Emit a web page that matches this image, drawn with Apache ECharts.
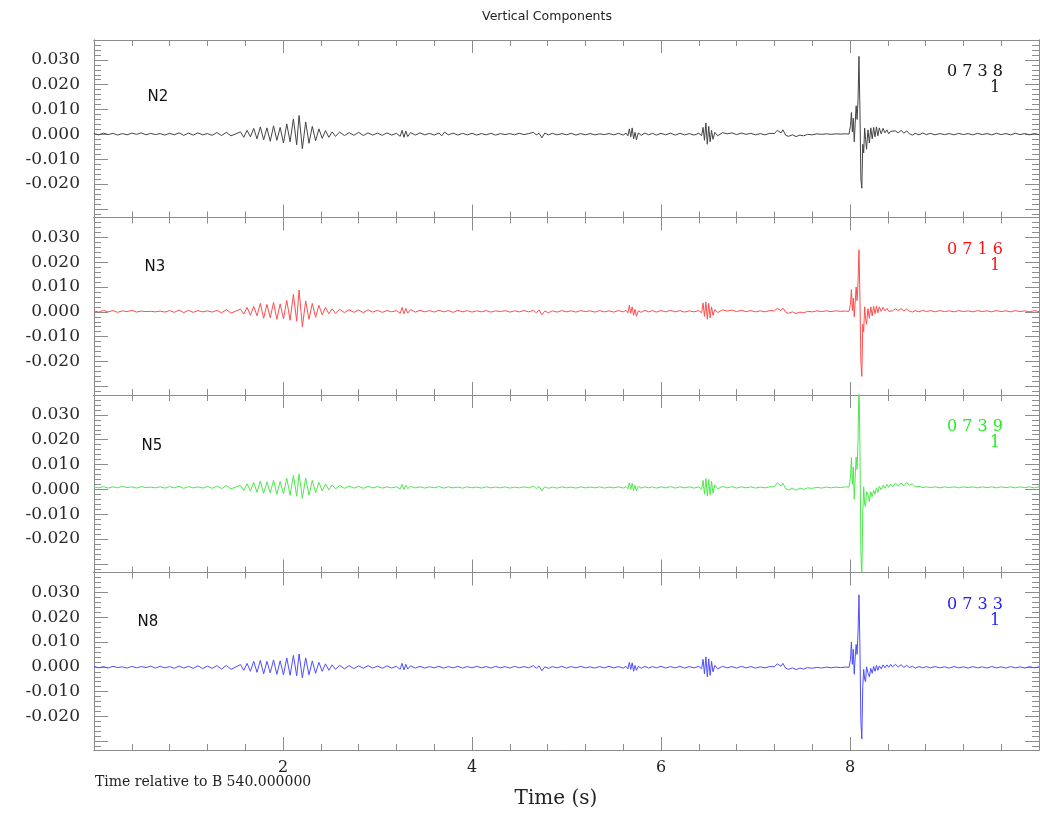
<!DOCTYPE html>
<html>
<head>
<meta charset="utf-8">
<title>Vertical Components</title>
<script src="https://cdn.jsdelivr.net/npm/echarts@6.0.0/dist/echarts.min.js"></script>
<style>
  html, body { margin: 0; padding: 0; background: #fff; }
  #chart { width: 1040px; height: 814px; }
</style>
</head>
<body>
<div id="chart"></div>
<script>
// station names and the code printed top right of each panel
const stations = ['N2', 'N3', 'N5', 'N8'];
const codes = ['0 7 3 8', '0 7 1 6', '0 7 3 9', '0 7 3 3'];

// traces: [time (s), amplitude in units of 0.001]
const n2 = [[0,0.3],[0.05,-0.2],[0.1,0.5],[0.15,-0.1],[0.2,0.4],[0.25,-0.3],[0.3,0.3],[0.35,-0.2],[0.4,0.5],[0.45,0.0],[0.5,0.6],[0.55,-0.2],[0.6,0.4],[0.65,-0.1],[0.7,0.3],[0.75,-0.3],[0.8,0.4],[0.85,-0.2],[0.9,0.6],[0.95,-0.4],[1.0,0.5],[1.05,-0.3],[1.1,0.6],[1.15,-0.2],[1.2,0.3],[1.25,-0.4],[1.3,0.7],[1.35,-0.5],[1.4,0.8],[1.45,-0.6],[1.55,1.0],
  [1.585,-1.2],[1.62,1.6],[1.655,-1.0],[1.69,2.4],[1.725,-1.8],[1.76,3.0],[1.795,-2.2],[1.83,2.6],[1.865,-2.8],[1.9,3.4],[1.935,-2.4],[1.97,2.8],[2.005,-3.5],[2.04,4.2],[2.075,-3.0],[2.11,6.2],[2.145,-4.2],[2.17,7.6],[2.205,-5.8],[2.24,5.0],[2.275,-3.6],[2.31,3.2],[2.345,-2.6],[2.38,2.2],[2.415,-1.6],[2.45,1.5],[2.485,-1.2],[2.52,1.0],[2.555,-0.8],
  [2.6,0.9],[2.65,-0.5],[2.7,0.7],[2.75,-0.4],[2.8,0.8],[2.85,-0.5],[2.9,0.6],[2.95,-0.3],[3.0,0.5],[3.05,-0.4],[3.1,0.6],[3.15,-0.3],[3.2,0.4],
  [3.24,-0.8],[3.26,1.6],[3.28,-1.2],[3.3,1.3],[3.32,-0.9],[3.35,0.7],[3.4,-0.3],
  [3.45,0.6],[3.5,-0.2],[3.55,0.4],[3.6,-0.3],[3.65,0.5],[3.68,-0.6],[3.71,0.9],[3.75,-0.2],[3.8,0.5],[3.85,-0.3],[3.9,0.4],[3.95,-0.2],[4.0,0.4],[4.05,-0.3],[4.1,0.3],[4.15,-0.2],[4.2,0.4],[4.25,-0.3],[4.3,0.3],[4.35,-0.1],[4.4,0.3],[4.45,-0.2],[4.5,0.4],[4.55,-0.1],[4.6,0.3],[4.65,0.8],[4.68,-0.2],[4.71,0.4],[4.74,-1.4],[4.77,0.5],[4.81,-0.2],[4.85,0.4],[4.9,-0.2],[4.95,0.3],[5.0,-0.2],[5.05,0.4],[5.1,-0.3],[5.15,0.3],[5.2,-0.2],[5.25,0.3],[5.3,-0.2],[5.35,0.2],[5.4,-0.1],[5.45,0.3],[5.5,-0.2],[5.55,0.4],[5.6,-0.3],[5.63,0.5],
  [5.65,-0.6],[5.665,2.2],[5.68,-1.0],[5.695,2.6],[5.71,-1.8],[5.725,0.8],[5.74,-2.2],[5.76,0.6],[5.79,-0.4],[5.83,0.5],[5.87,-0.2],[5.91,0.4],[5.95,-0.3],[6.0,0.4],[6.05,-0.2],[6.1,0.5],[6.15,-0.3],[6.2,0.4],[6.25,-0.2],[6.3,0.3],[6.35,-0.3],[6.4,0.4],
  [6.43,-0.5],[6.445,2.8],[6.46,-2.4],[6.475,4.6],[6.49,-4.0],[6.505,3.2],[6.52,-3.0],[6.535,1.6],[6.55,-2.0],[6.57,0.8],[6.6,-0.6],[6.65,0.7],[6.7,0.2],[6.75,0.6],[6.8,-0.1],[6.85,0.5],[6.9,0.0],[6.95,0.4],[7.0,-0.2],[7.05,0.3],[7.1,-0.2],[7.15,0.4],[7.2,0.3],[7.23,1.6],[7.25,2.4],[7.27,0.6],[7.29,1.8],[7.32,-0.4],[7.35,-0.8],[7.39,-0.2],[7.43,-0.9],[7.47,-0.3],[7.51,-0.6],[7.55,0.0],[7.6,-0.2],[7.65,0.2],[7.7,0.0],[7.75,0.2],[7.8,0.0],[7.85,0.2],[7.9,0.1],[7.95,0.2],[7.99,0.1],
  [8.005,3.5],[8.015,8.8],[8.025,1.0],[8.035,6.5],[8.045,-3.0],[8.055,4.5],[8.065,11.5],[8.075,6.0],[8.085,14.0],[8.095,31.4],[8.105,10.0],[8.115,-18.0],[8.125,-21.7],[8.135,-4.0],[8.145,-7.5],[8.155,2.5],[8.165,-2.0],[8.175,-6.0],[8.19,1.8],[8.205,-3.5],[8.22,2.6],[8.235,-1.8],[8.25,2.8],[8.265,-1.0],[8.28,3.0],[8.295,-0.6],[8.31,2.6],[8.33,0.2],[8.35,2.4],[8.37,0.6],[8.39,1.8],[8.41,0.2],[8.43,1.2],[8.45,0.4],[8.48,1.4],[8.51,0.6],[8.54,1.6],[8.57,0.5],[8.6,1.4],[8.63,0.2],[8.66,-0.3],[8.69,0.4],[8.73,-0.2],[8.77,0.5],[8.81,-0.1],[8.85,0.4],
  [8.9,-0.2],[8.95,0.3],[9.0,-0.1],[9.05,0.3],[9.1,-0.2],[9.15,0.4],[9.2,-0.1],[9.25,0.3],[9.3,-0.2],[9.35,0.4],[9.4,-0.1],[9.45,0.3],[9.5,-0.2],[9.55,0.4],[9.6,-0.1],[9.65,0.3],[9.7,-0.2],[9.75,0.4],[9.8,-0.1],[9.85,0.3],[9.9,-0.2],[9.95,0.3],[10.0,-0.1]];

const n3 = [[0,0.4],[0.05,-0.1],[0.1,0.6],[0.15,0.0],[0.2,0.5],[0.25,-0.2],[0.3,0.4],[0.35,0.1],[0.4,0.6],[0.45,-0.1],[0.5,0.3],[0.55,0.1],[0.6,0.2],[0.65,0.0],[0.7,0.3],[0.75,-0.1],[0.8,0.5],[0.85,-0.2],[0.9,0.7],[0.95,-0.3],[1.0,0.6],[1.05,-0.2],[1.1,0.5],[1.15,0.0],[1.2,0.4],[1.25,-0.1],[1.3,0.6],[1.35,-0.4],[1.4,0.9],[1.45,-0.5],[1.55,1.1],
  [1.585,-0.9],[1.62,1.8],[1.655,-1.4],[1.69,2.2],[1.725,-1.6],[1.76,3.4],[1.795,-2.6],[1.83,3.0],[1.865,-2.4],[1.9,3.8],[1.935,-3.0],[1.97,3.2],[2.005,-2.8],[2.04,4.6],[2.075,-3.4],[2.11,7.0],[2.145,-3.8],[2.17,8.8],[2.205,-6.0],[2.24,4.4],[2.275,-3.0],[2.31,3.4],[2.345,-2.2],[2.38,2.6],[2.415,-1.2],[2.45,1.8],[2.485,-0.8],[2.52,1.2],[2.555,-0.6],
  [2.6,1.0],[2.65,-0.3],[2.7,0.8],[2.75,-0.2],[2.8,0.7],[2.85,-0.3],[2.9,0.8],[2.95,-0.1],[3.0,0.6],[3.05,-0.2],[3.1,0.5],[3.15,0.0],[3.2,0.5],
  [3.24,-0.6],[3.26,1.8],[3.28,-0.8],[3.3,1.4],[3.32,-0.5],[3.35,0.9],[3.4,-0.1],
  [3.45,0.6],[3.5,0.0],[3.55,0.5],[3.6,-0.1],[3.65,0.6],[3.7,0.0],[3.75,0.5],[3.8,-0.2],[3.85,0.6],[3.9,0.0],[3.95,0.5],[4.0,-0.1],[4.05,0.4],[4.1,0.0],[4.15,0.5],[4.2,-0.1],[4.25,0.4],[4.3,0.1],[4.35,0.5],[4.4,-0.1],[4.45,0.4],[4.5,0.0],[4.55,0.5],[4.6,0.0],[4.65,0.6],[4.68,-0.4],[4.71,0.7],[4.74,-1.2],[4.77,0.3],[4.81,-0.4],[4.85,0.4],[4.9,-0.1],[4.95,0.5],[5.0,0.0],[5.05,0.4],[5.1,-0.1],[5.15,0.5],[5.2,0.1],[5.25,0.4],[5.3,-0.1],[5.35,0.5],[5.4,0.0],[5.45,0.4],[5.5,-0.1],[5.55,0.5],[5.6,0.0],[5.63,0.6],
  [5.65,-0.4],[5.665,2.6],[5.68,-0.6],[5.695,2.0],[5.71,-1.4],[5.725,1.0],[5.74,-1.8],[5.76,0.4],[5.79,-0.2],[5.83,0.6],[5.87,0.0],[5.91,0.5],[5.95,-0.1],[6.0,0.5],[6.05,0.0],[6.1,0.6],[6.15,0.0],[6.2,0.5],[6.25,-0.1],[6.3,0.4],[6.35,0.0],[6.4,0.5],
  [6.43,-0.4],[6.445,3.6],[6.46,-1.8],[6.475,4.0],[6.49,-3.0],[6.505,3.4],[6.52,-2.4],[6.535,2.0],[6.55,-1.4],[6.57,0.9],[6.6,-0.3],[6.65,0.8],[6.7,0.3],[6.75,0.7],[6.8,0.1],[6.85,0.6],[6.9,0.1],[6.95,0.5],[7.0,0.0],[7.05,0.4],[7.1,0.0],[7.15,0.5],[7.2,0.4],[7.23,1.4],[7.25,2.0],[7.27,0.5],[7.29,1.5],[7.32,-0.2],[7.35,-0.6],[7.39,0.0],[7.43,-0.7],[7.47,-0.1],[7.51,-0.4],[7.55,0.2],[7.6,0.0],[7.65,0.4],[7.7,0.1],[7.75,0.4],[7.8,0.1],[7.85,0.4],[7.9,0.2],[7.95,0.3],[7.99,0.2],
  [8.005,3.0],[8.015,9.0],[8.025,0.5],[8.035,5.5],[8.045,-2.0],[8.055,4.0],[8.065,10.0],[8.075,4.5],[8.085,12.0],[8.095,25.0],[8.105,6.0],[8.115,-20.0],[8.125,-26.0],[8.135,-5.0],[8.145,-8.0],[8.155,2.0],[8.165,-2.5],[8.175,-5.0],[8.19,1.2],[8.205,-2.6],[8.22,2.0],[8.235,-1.6],[8.25,2.2],[8.265,-0.8],[8.28,2.4],[8.295,-0.4],[8.31,2.0],[8.33,0.2],[8.35,1.8],[8.37,0.4],[8.39,1.4],[8.41,0.2],[8.43,1.0],[8.45,0.4],[8.48,1.2],[8.51,0.5],[8.54,1.3],[8.57,0.4],[8.6,1.1],[8.63,0.3],[8.66,-0.1],[8.69,0.5],[8.73,0.0],[8.77,0.6],[8.81,0.1],[8.85,0.5],
  [8.9,0.0],[8.95,0.5],[9.0,0.1],[9.05,0.4],[9.1,0.0],[9.15,0.5],[9.2,0.1],[9.25,0.4],[9.3,0.0],[9.35,0.5],[9.4,0.1],[9.45,0.4],[9.5,0.0],[9.55,0.5],[9.6,0.1],[9.65,0.4],[9.7,0.0],[9.75,0.5],[9.8,0.1],[9.85,0.4],[9.9,0.0],[9.95,0.5],[10.0,0.1]];

const n5 = [[0,1.0],[0.05,0.6],[0.1,1.1],[0.15,0.5],[0.2,1.0],[0.25,0.6],[0.3,1.2],[0.35,0.7],[0.4,1.0],[0.45,0.5],[0.5,1.1],[0.55,0.7],[0.6,0.9],[0.65,0.6],[0.7,1.0],[0.75,0.5],[0.8,1.1],[0.85,0.6],[0.9,1.2],[0.95,0.4],[1.0,1.1],[1.05,0.6],[1.1,1.0],[1.15,0.5],[1.2,1.2],[1.25,0.4],[1.3,1.3],[1.35,0.3],[1.4,1.5],[1.45,0.2],[1.55,1.6],
  [1.585,-0.4],[1.62,2.2],[1.655,-0.6],[1.69,2.8],[1.725,-1.2],[1.76,3.4],[1.795,-1.6],[1.83,3.0],[1.865,-1.4],[1.9,3.6],[1.935,-2.0],[1.97,3.2],[2.005,-1.8],[2.04,4.4],[2.075,-2.4],[2.11,5.6],[2.145,-2.8],[2.17,6.2],[2.205,-3.6],[2.24,4.6],[2.275,-2.4],[2.31,3.6],[2.345,-1.4],[2.38,2.8],[2.415,-0.6],[2.45,2.2],[2.485,-0.2],[2.52,1.8],[2.555,0.2],
  [2.6,1.5],[2.65,0.4],[2.7,1.3],[2.75,0.5],[2.8,1.2],[2.85,0.4],[2.9,1.2],[2.95,0.6],[3.0,1.1],[3.05,0.5],[3.1,1.0],[3.15,0.6],[3.2,1.0],
  [3.24,0.2],[3.26,2.0],[3.28,0.0],[3.3,1.6],[3.32,0.3],[3.35,1.2],[3.4,0.6],
  [3.45,1.0],[3.5,0.5],[3.55,1.0],[3.6,0.6],[3.65,1.1],[3.7,0.5],[3.75,1.0],[3.8,0.6],[3.85,0.9],[3.9,0.5],[3.95,1.0],[4.0,0.6],[4.05,0.9],[4.1,0.5],[4.15,1.0],[4.2,0.6],[4.25,0.9],[4.3,0.6],[4.35,1.0],[4.4,0.5],[4.45,0.9],[4.5,0.6],[4.55,1.0],[4.6,0.6],[4.65,1.3],[4.68,0.3],[4.71,1.2],[4.74,-0.6],[4.77,1.0],[4.81,0.4],[4.85,0.9],[4.9,0.5],[4.95,1.0],[5.0,0.6],[5.05,0.9],[5.1,0.5],[5.15,1.0],[5.2,0.6],[5.25,0.9],[5.3,0.6],[5.35,1.0],[5.4,0.5],[5.45,0.9],[5.5,0.6],[5.55,1.0],[5.6,0.5],[5.63,1.1],
  [5.65,0.2],[5.665,2.6],[5.68,0.0],[5.695,2.4],[5.71,-0.4],[5.725,1.6],[5.74,-0.6],[5.76,1.2],[5.79,0.5],[5.83,1.0],[5.87,0.6],[5.91,1.0],[5.95,0.5],[6.0,1.0],[6.05,0.6],[6.1,1.1],[6.15,0.5],[6.2,1.0],[6.25,0.6],[6.3,1.0],[6.35,0.5],[6.4,1.0],
  [6.43,0.0],[6.445,3.6],[6.46,-2.0],[6.475,4.4],[6.49,-2.6],[6.505,4.0],[6.52,-2.2],[6.535,3.2],[6.55,-1.6],[6.57,1.8],[6.6,0.2],[6.65,1.2],[6.7,0.6],[6.75,1.1],[6.8,0.5],[6.85,1.0],[6.9,0.6],[6.95,1.0],[7.0,0.5],[7.05,0.9],[7.1,0.6],[7.15,1.0],[7.2,1.0],[7.23,2.6],[7.25,3.2],[7.27,1.4],[7.29,2.4],[7.32,0.2],[7.35,-0.2],[7.39,0.4],[7.43,-0.3],[7.47,0.5],[7.51,0.0],[7.55,0.6],[7.6,0.4],[7.65,0.8],[7.7,0.5],[7.75,0.9],[7.8,0.6],[7.85,0.9],[7.9,0.7],[7.95,1.0],[7.99,0.9],
  [8.005,5.0],[8.015,12.8],[8.025,2.0],[8.035,9.0],[8.045,-4.0],[8.055,5.0],[8.065,13.0],[8.075,8.0],[8.085,20.0],[8.095,44.0],[8.105,18.0],[8.115,-25.0],[8.125,-36.0],[8.135,-10.0],[8.145,1.0],[8.155,-6.0],[8.165,-7.0],[8.175,-1.0],[8.19,-2.0],[8.205,-5.0],[8.22,-1.0],[8.235,-3.0],[8.25,-0.4],[8.265,-2.0],[8.28,0.6],[8.295,-1.2],[8.31,1.2],[8.33,-0.2],[8.35,1.6],[8.37,0.4],[8.39,2.0],[8.41,0.8],[8.43,2.2],[8.45,1.0],[8.48,2.4],[8.51,1.2],[8.54,2.6],[8.57,1.4],[8.6,2.8],[8.63,1.6],[8.66,2.2],[8.69,1.0],[8.73,1.2],[8.77,0.7],[8.81,1.0],[8.85,0.7],
  [8.9,1.0],[8.95,0.6],[9.0,1.0],[9.05,0.7],[9.1,1.0],[9.15,0.6],[9.2,1.0],[9.25,0.7],[9.3,1.0],[9.35,0.6],[9.4,1.0],[9.45,0.7],[9.5,1.0],[9.55,0.6],[9.6,1.0],[9.65,0.7],[9.7,1.0],[9.75,0.6],[9.8,1.0],[9.85,0.7],[9.9,1.0],[9.95,0.6],[10.0,1.0]];

const n8 = [[0,0.2],[0.05,-0.4],[0.1,0.1],[0.15,-0.5],[0.2,0.2],[0.25,-0.3],[0.3,0.0],[0.35,-0.5],[0.4,0.2],[0.45,-0.4],[0.5,0.1],[0.55,-0.3],[0.6,0.3],[0.65,-0.5],[0.7,0.2],[0.75,-0.4],[0.8,0.1],[0.85,-0.6],[0.9,0.3],[0.95,-0.5],[1.0,0.2],[1.05,-0.6],[1.1,0.4],[1.15,-0.7],[1.2,0.3],[1.25,-0.6],[1.3,0.5],[1.35,-0.9],[1.4,0.6],[1.45,-1.0],[1.55,0.9],
  [1.585,-1.4],[1.62,1.4],[1.655,-1.8],[1.69,2.2],[1.725,-2.2],[1.76,2.6],[1.795,-2.8],[1.83,2.2],[1.865,-2.4],[1.9,2.8],[1.935,-3.0],[1.97,2.4],[2.005,-3.2],[2.04,3.6],[2.075,-3.4],[2.11,4.6],[2.145,-3.6],[2.17,5.2],[2.205,-4.4],[2.24,3.6],[2.275,-3.2],[2.31,2.4],[2.345,-2.6],[2.38,1.8],[2.415,-1.8],[2.45,1.2],[2.485,-1.4],[2.52,0.8],[2.555,-1.0],
  [2.6,0.6],[2.65,-0.8],[2.7,0.5],[2.75,-0.7],[2.8,0.4],[2.85,-0.6],[2.9,0.5],[2.95,-0.5],[3.0,0.3],[3.05,-0.6],[3.1,0.4],[3.15,-0.5],[3.2,0.2],
  [3.24,-1.0],[3.26,1.4],[3.28,-1.2],[3.3,1.0],[3.32,-0.9],[3.35,0.4],[3.4,-0.5],
  [3.45,0.2],[3.5,-0.5],[3.55,0.1],[3.6,-0.4],[3.65,0.2],[3.7,-0.5],[3.75,0.1],[3.8,-0.4],[3.85,0.2],[3.9,-0.5],[3.95,0.1],[4.0,-0.4],[4.05,0.2],[4.1,-0.4],[4.15,0.1],[4.2,-0.5],[4.25,0.2],[4.3,-0.4],[4.35,0.1],[4.4,-0.5],[4.45,0.2],[4.5,-0.4],[4.55,0.1],[4.6,-0.4],[4.65,0.5],[4.68,-0.6],[4.71,0.4],[4.74,-1.6],[4.77,0.0],[4.81,-0.6],[4.85,0.1],[4.9,-0.4],[4.95,0.2],[5.0,-0.5],[5.05,0.1],[5.1,-0.4],[5.15,0.2],[5.2,-0.4],[5.25,0.0],[5.3,-0.5],[5.35,0.1],[5.4,-0.4],[5.45,0.2],[5.5,-0.4],[5.55,0.1],[5.6,-0.5],[5.63,0.2],
  [5.65,-0.8],[5.665,1.8],[5.68,-1.0],[5.695,1.6],[5.71,-1.8],[5.725,0.6],[5.74,-1.4],[5.76,0.2],[5.79,-0.6],[5.83,0.2],[5.87,-0.5],[5.91,0.1],[5.95,-0.4],[6.0,0.2],[6.05,-0.5],[6.1,0.1],[6.15,-0.4],[6.2,0.2],[6.25,-0.5],[6.3,0.1],[6.35,-0.4],[6.4,0.2],
  [6.43,-0.8],[6.445,3.0],[6.46,-2.8],[6.475,4.0],[6.49,-4.0],[6.505,3.2],[6.52,-3.4],[6.535,2.2],[6.55,-2.0],[6.57,0.6],[6.6,-0.8],[6.65,0.2],[6.7,-0.4],[6.75,0.1],[6.8,-0.5],[6.85,0.2],[6.9,-0.4],[6.95,0.1],[7.0,-0.5],[7.05,0.0],[7.1,-0.4],[7.15,0.1],[7.2,0.0],[7.23,1.2],[7.25,2.0],[7.27,0.2],[7.29,1.4],[7.32,-0.6],[7.35,-1.0],[7.39,-0.4],[7.43,-1.1],[7.47,-0.5],[7.51,-0.9],[7.55,-0.3],[7.6,-0.6],[7.65,-0.2],[7.7,-0.5],[7.75,-0.1],[7.8,-0.4],[7.85,-0.1],[7.9,-0.3],[7.95,-0.1],[7.99,-0.2],
  [8.005,3.0],[8.015,10.0],[8.025,1.0],[8.035,7.0],[8.045,-3.0],[8.055,4.0],[8.065,9.0],[8.075,5.0],[8.085,14.0],[8.095,29.0],[8.105,8.0],[8.115,-22.0],[8.125,-29.0],[8.135,-8.0],[8.145,-1.0],[8.155,-5.0],[8.165,-6.0],[8.175,0.0],[8.19,-2.4],[8.205,-4.0],[8.22,-0.6],[8.235,-2.6],[8.25,0.2],[8.265,-1.8],[8.28,0.6],[8.295,-1.4],[8.31,0.4],[8.33,-0.8],[8.35,0.8],[8.37,-0.4],[8.39,0.8],[8.41,-0.2],[8.43,1.0],[8.45,0.0],[8.48,1.0],[8.51,0.0],[8.54,0.8],[8.57,-0.2],[8.6,0.6],[8.63,-0.3],[8.66,0.2],[8.69,-0.5],[8.73,0.1],[8.77,-0.4],[8.81,0.1],[8.85,-0.4],
  [8.9,0.1],[8.95,-0.4],[9.0,0.0],[9.05,-0.5],[9.1,0.1],[9.15,-0.4],[9.2,0.0],[9.25,-0.5],[9.3,0.1],[9.35,-0.4],[9.4,0.0],[9.45,-0.5],[9.5,0.1],[9.55,-0.4],[9.6,0.0],[9.65,-0.5],[9.7,0.1],[9.75,-0.4],[9.8,0.0],[9.85,-0.5],[9.9,0.1],[9.95,-0.4],[10.0,0.0]];

// tick positions
const xMajorTicks = [2, 4, 6, 8];
const xMinorTicks = [0.4, 0.8, 1.2, 1.6, 2.4, 2.8, 3.2, 3.6, 4.4, 4.8, 5.2, 5.6, 6.4, 6.8, 7.2, 7.6, 8.4, 8.8, 9.2, 9.6];
const yMajorTicks = [-0.03, -0.02, -0.01, 0, 0.01, 0.02, 0.03];
const yLabelTicks = [-0.02, -0.01, 0, 0.01, 0.02, 0.03];
const yMinorTicks = [-0.032, -0.028, -0.026, -0.024, -0.022, -0.018, -0.016, -0.014, -0.012, -0.008, -0.006, -0.004, -0.002,
  0.002, 0.004, 0.006, 0.008, 0.012, 0.014, 0.016, 0.018, 0.022, 0.024, 0.026, 0.028, 0.032, 0.034, 0.036];

const traces = [n2, n3, n5, n8];
const traceColors = ['#444444', '#ff4d4d', '#4de84d', '#4d4dff'];
const codeColors = ['#111111', '#ff1010', '#22ee22', '#2020ff'];

const X_MIN = 0, X_MAX = 10;
const Y_MIN = -0.0335, Y_MAX = 0.038;
const PANEL_TOP = 40, PANEL_H = 177.5;
const frameColor = '#8c8c8c';
const serif = 'DejaVu Serif';

const chart = echarts.init(document.getElementById('chart'));

function xAxisFor(gi, position, ticks, len, labels) {
    return {
        type: 'value', gridIndex: gi, position: position, min: X_MIN, max: X_MAX,
        axisLine: { show: true, onZero: false, lineStyle: { color: frameColor, width: 1 } },
        axisTick: { show: true, inside: true, length: len, customValues: ticks, lineStyle: { color: frameColor } },
        axisLabel: labels ? {
            show: true, customValues: xMajorTicks, margin: 10, color: '#222',
            fontFamily: serif, fontSize: 16, formatter: v => String(v)
        } : { show: false },
        splitLine: { show: false }
    };
}

function yAxisFor(gi, position, ticks, len, labels) {
    return {
        type: 'value', gridIndex: gi, position: position, min: Y_MIN, max: Y_MAX,
        axisLine: { show: true, onZero: false, lineStyle: { color: frameColor, width: 1 } },
        axisTick: { show: true, inside: true, length: len, customValues: ticks, lineStyle: { color: frameColor } },
        axisLabel: labels ? {
            show: true, customValues: yLabelTicks, margin: 14, color: '#2a2a2a',
            fontFamily: serif, fontSize: 17, formatter: v => v.toFixed(3)
        } : { show: false },
        splitLine: { show: false }
    };
}

const grids = [], xAxes = [], yAxes = [], series = [], graphics = [];

traces.forEach((d, i) => {
    const top = PANEL_TOP + PANEL_H * i;
    grids.push({ left: 94, right: 1, top: top, height: PANEL_H });

    const last = i === traces.length - 1;
    xAxes.push(xAxisFor(i, 'bottom', xMajorTicks, 13, last));
    xAxes.push(xAxisFor(i, 'bottom', xMinorTicks, 6, false));
    xAxes.push(xAxisFor(i, 'top', xMajorTicks, 13, false));
    xAxes.push(xAxisFor(i, 'top', xMinorTicks, 6, false));

    yAxes.push(yAxisFor(i, 'left', yMajorTicks, 14, true));
    yAxes.push(yAxisFor(i, 'left', yMinorTicks, 7, false));
    yAxes.push(yAxisFor(i, 'right', yMajorTicks, 14, false));
    yAxes.push(yAxisFor(i, 'right', yMinorTicks, 7, false));

    series.push({
        name: stations[i],
        type: 'line',
        xAxisIndex: 4 * i,
        yAxisIndex: 4 * i,
        data: d.map(p => [p[0], p[1] / 1000]),
        showSymbol: false,
        symbol: 'none',
        clip: true,
        silent: true,
        lineStyle: { color: traceColors[i], width: 1 },
        itemStyle: { color: traceColors[i] }
    });

    // station name, left of each panel
    const nameX = [158, 155, 152, 148][i];
    const nameY = [97, 267, 446, 622][i];
    graphics.push({
        type: 'text', x: nameX, y: nameY, silent: true,
        style: { text: stations[i], fill: '#111', font: '15px "DejaVu Sans"', textAlign: 'center', textVerticalAlign: 'middle', align: 'center', verticalAlign: 'middle' }
    });
    // code and the "1" below it, top right
    graphics.push({
        type: 'text', x: 1003, y: top + 32, silent: true,
        style: { text: codes[i], fill: codeColors[i], font: '16px "DejaVu Serif"', textAlign: 'right', textVerticalAlign: 'middle', align: 'right', verticalAlign: 'middle' }
    });
    graphics.push({
        type: 'text', x: 995, y: top + 48, silent: true,
        style: { text: '1', fill: codeColors[i], font: '16px "DejaVu Serif"', textAlign: 'center', textVerticalAlign: 'middle', align: 'center', verticalAlign: 'middle' }
    });
});

graphics.push({
    type: 'text', x: 547, y: 17, silent: true,
    style: { text: 'Vertical Components', fill: '#222', font: '12.5px "DejaVu Sans"', textAlign: 'center', textVerticalAlign: 'middle', align: 'center', verticalAlign: 'middle' }
});
graphics.push({
    type: 'text', x: 95, y: 782.5, silent: true,
    style: { text: 'Time relative to B 540.000000', fill: '#222', font: '14px "DejaVu Serif"', textAlign: 'left', textVerticalAlign: 'middle', align: 'left', verticalAlign: 'middle' }
});
graphics.push({
    type: 'text', x: 556, y: 799, silent: true,
    style: { text: 'Time (s)', fill: '#222', font: '20px "DejaVu Serif"', textAlign: 'center', textVerticalAlign: 'middle', align: 'center', verticalAlign: 'middle' }
});

chart.setOption({
    animation: false,
    backgroundColor: '#ffffff',
    grid: grids,
    xAxis: xAxes,
    yAxis: yAxes,
    series: series,
    graphic: graphics
});
</script>
</body>
</html>
